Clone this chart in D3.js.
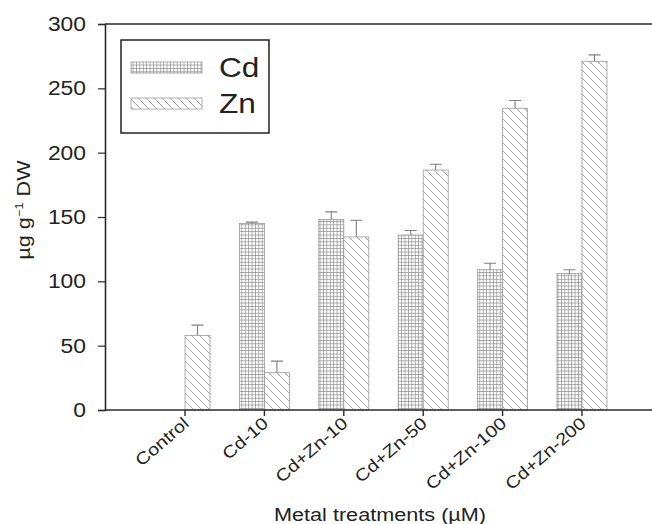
<!DOCTYPE html>
<html><head><meta charset="utf-8">
<script src="https://cdn.jsdelivr.net/npm/d3@7"></script>
<style>body{margin:0;background:#fff}svg{display:block;font-family:"Liberation Sans",Arial,sans-serif}</style>
</head><body><svg id="c" width="652" height="524"></svg>
<script>
const categories = ["Control","Cd-10","Cd+Zn-10","Cd+Zn-50","Cd+Zn-100","Cd+Zn-200"];
const cdValues = [0, 145, 148, 136, 109, 106];
const cdErrors = [0, 1, 6, 3.5, 5, 3];
const znValues = [58, 29, 134.5, 186.5, 234.5, 271];
const znErrors = [8, 9, 13, 4.5, 6, 5];
const yTicks = [0, 50, 100, 150, 200, 250, 300];
const seriesNames = ["Cd", "Zn"];

(function(){
const svg = d3.select("#c");
const W = 652, H = 524;
const mLeft = 105, mTop = 24, mBottom = 410;
const bw = 25;
const SX = 1.17;
const tc = "#222";

function stext(parent, tx, ty, rot, size, anchor, str){
  return parent.append("text")
    .attr("transform",`translate(${tx},${ty}) rotate(${rot}) scale(${SX},1)`)
    .attr("text-anchor",anchor).attr("font-size",size).attr("fill",tc).text(str);
}

const defs = svg.append("defs");
const pg = defs.append("pattern").attr("id","grid").attr("patternUnits","userSpaceOnUse")
  .attr("width",3.4).attr("height",3.4);
pg.append("rect").attr("width",3.4).attr("height",3.4).attr("fill","#fff");
pg.append("path").attr("d","M0,0.3H3.4M0.3,0V3.4").attr("stroke","#8a8a8a").attr("stroke-width",0.8);
const pd = defs.append("pattern").attr("id","diag").attr("patternUnits","userSpaceOnUse")
  .attr("width",8).attr("height",8);
pd.append("rect").attr("width",8).attr("height",8).attr("fill","#fff");
pd.append("path").attr("d","M-2,-2L10,10M-2,6L2,10M6,-2L10,2").attr("stroke","#9a9a9a").attr("stroke-width",0.9);

const x = d3.scalePoint().domain(categories).range([185, 582]);
const y = d3.scaleLinear().domain([0, 300]).range([mBottom, mTop]);

const ax = "#2a2a2a";
svg.append("line").attr("x1",mLeft).attr("x2",W+5).attr("y1",mTop).attr("y2",mTop).attr("stroke",ax).attr("stroke-width",1.6);

const yAxis = svg.append("g").attr("transform",`translate(${mLeft},0)`)
  .call(d3.axisLeft(y).tickValues(yTicks).tickSize(7).tickFormat(""));
yAxis.select(".domain").attr("stroke",ax).attr("stroke-width",1.6);
yAxis.selectAll(".tick line").attr("stroke",ax).attr("stroke-width",1.2);
yTicks.forEach(t=>{ stext(svg, 86, y(t)+7, 0, 19.5, "end", d3.format("d")(t)); });

const g = svg.append("g");
const data = categories.map((c,i)=>({c, cd:cdValues[i], cde:cdErrors[i], zn:znValues[i], zne:znErrors[i]}));
g.selectAll(".cd").data(data.filter(d=>d.cd>0)).join("rect")
  .attr("x",d=>x(d.c)-bw).attr("width",bw).attr("y",d=>y(d.cd)).attr("height",d=>y(0)-y(d.cd))
  .attr("fill","url(#grid)").attr("stroke","#999").attr("stroke-width",0.8);
g.selectAll(".zn").data(data).join("rect")
  .attr("x",d=>x(d.c)).attr("width",bw).attr("y",d=>y(d.zn)).attr("height",d=>y(0)-y(d.zn))
  .attr("fill","url(#diag)").attr("stroke","#999").attr("stroke-width",0.8);

const eb = (cx, v, e) => {
  g.append("path").attr("d",`M${cx},${y(v)}V${y(v+e)}M${cx-6},${y(v+e)}H${cx+6}`)
    .attr("stroke","#808080").attr("stroke-width",1.1).attr("fill","none");
};
data.forEach(d=>{
  if (d.cd>0) eb(x(d.c)-bw/2, d.cd, d.cde);
  eb(x(d.c)+bw/2, d.zn, d.zne);
});

svg.append("line").attr("x1",mLeft).attr("x2",W+5).attr("y1",mBottom).attr("y2",mBottom).attr("stroke",ax).attr("stroke-width",1.6);
const xg = svg.append("g");
categories.forEach(c=>{
  xg.append("line").attr("x1",x(c)).attr("x2",x(c)).attr("y1",mBottom).attr("y2",mBottom+6).attr("stroke",ax).attr("stroke-width",1.4);
  stext(xg, x(c)+5, mBottom+15, -41, 17, "end", c);
});

stext(svg, 380, 521, 0, 18.5, "middle", "Metal treatments (µM)");
const yt = svg.append("text").attr("transform",`translate(30,210) rotate(-90) scale(${SX},1)`).attr("text-anchor","middle")
  .attr("font-size",18.5).attr("fill",tc);
yt.append("tspan").text("µg g");
yt.append("tspan").attr("font-size",11).attr("dy",-7).text("−1");
yt.append("tspan").attr("dy",7).text(" DW");

const lg = svg.append("g");
lg.append("rect").attr("x",121).attr("y",40).attr("width",148).attr("height",93).attr("fill","#fff").attr("stroke","#222").attr("stroke-width",1.5);
const sw = [{n:seriesNames[0], f:"url(#grid)", y:62},{n:seriesNames[1], f:"url(#diag)", y:98}];
sw.forEach(s=>{
  lg.append("rect").attr("x",131).attr("y",s.y).attr("width",71).attr("height",11).attr("fill",s.f).attr("stroke","#999").attr("stroke-width",0.8);
  stext(lg, 219, s.y+15, 0, 27, "start", s.n);
});
})();
</script></body></html>
